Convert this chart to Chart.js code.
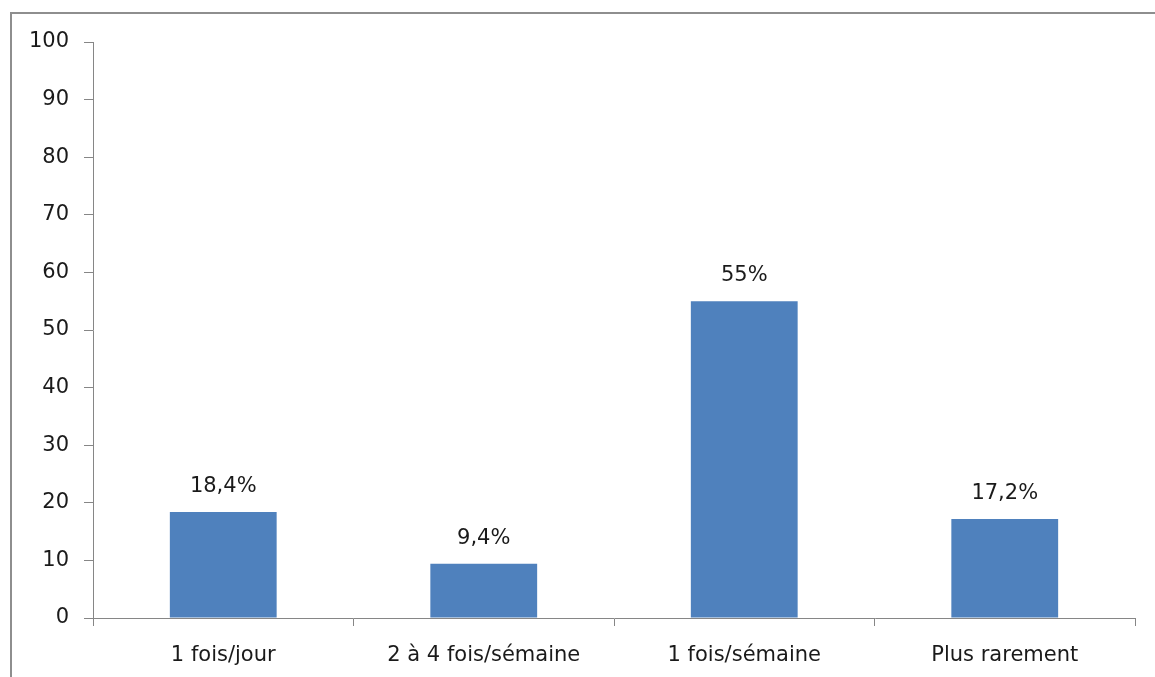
<!DOCTYPE html>
<html>
<head>
<meta charset="utf-8">
<script src="https://cdn.jsdelivr.net/npm/chart.js@4/dist/chart.umd.min.js"></script>
<style>
  html, body { margin: 0; padding: 0; background: #ffffff; }
  #wrap { width: 1155px; height: 677px; position: relative; }
</style>
</head>
<body>
<div id="wrap"><canvas id="c" width="1155" height="677"></canvas></div>
<script>
// Frequency categories and their percentages
const categories = ['1 fois/jour', '2 à 4 fois/sémaine', '1 fois/sémaine', 'Plus rarement'];
const values = [18.4, 9.4, 55, 17.2];
const valueLabels = ['18,4%', '9,4%', '55%', '17,2%'];
const yTicks = [0, 10, 20, 30, 40, 50, 60, 70, 80, 90, 100];

const FONT = '"DejaVu Sans", Verdana, sans-serif';
const FONT_SIZE = 21;

// Outer frame of the chart object
const framePlugin = {
  id: 'frame',
  beforeDraw(chart) {
    const ctx = chart.ctx;
    ctx.save();
    ctx.fillStyle = '#ffffff';
    ctx.fillRect(0, 0, chart.width, chart.height);
    ctx.strokeStyle = '#8e8e8e';
    ctx.lineWidth = 2;
    ctx.strokeRect(11, 13, chart.width + 20, chart.height + 20);
    ctx.restore();
  }
};

// Percent labels above each bar
const valueLabelPlugin = {
  id: 'valueLabels',
  afterDatasetsDraw(chart) {
    const ctx = chart.ctx;
    const meta = chart.getDatasetMeta(0);
    ctx.save();
    ctx.font = FONT_SIZE + 'px ' + FONT;
    ctx.fillStyle = '#1a1a1a';
    ctx.textAlign = 'center';
    ctx.textBaseline = 'bottom';
    meta.data.forEach((bar, i) => {
      ctx.fillText(valueLabels[i], bar.x, bar.y - 15);
    });
    ctx.restore();
  }
};

new Chart(document.getElementById('c'), {
  type: 'bar',
  data: {
    labels: categories,
    datasets: [{
      data: values,
      backgroundColor: '#4f81bd',
      borderWidth: 0,
      barPercentage: 0.41,
      categoryPercentage: 1
    }]
  },
  options: {
    responsive: false,
    animation: false,
    devicePixelRatio: 1,
    layout: { padding: { top: 42, right: 20, left: 0, bottom: 0 } },
    plugins: {
      legend: { display: false },
      tooltip: { enabled: false }
    },
    scales: {
      x: {
        offset: true,
        grid: {
          offset: true,
          drawOnChartArea: false,
          drawTicks: true,
          tickLength: 8,
          color: '#868686'
        },
        border: { color: '#868686', width: 1 },
        ticks: {
          color: '#1a1a1a',
          font: { family: FONT, size: FONT_SIZE },
          padding: 17,
          maxRotation: 0,
          autoSkip: false
        },
        afterFit(scale) { scale.height = 59; }
      },
      y: {
        min: 0,
        max: 100,
        afterBuildTicks(scale) {
          scale.ticks = yTicks.map(v => ({ value: v }));
        },
        grid: {
          drawOnChartArea: false,
          drawTicks: true,
          tickLength: 9,
          color: '#868686'
        },
        border: { color: '#868686', width: 1 },
        ticks: {
          color: '#1a1a1a',
          font: { family: FONT, size: FONT_SIZE },
          padding: 15
        },
        afterFit(scale) { scale.width = 93; }
      }
    }
  },
  plugins: [framePlugin, valueLabelPlugin]
});
</script>
</body>
</html>
